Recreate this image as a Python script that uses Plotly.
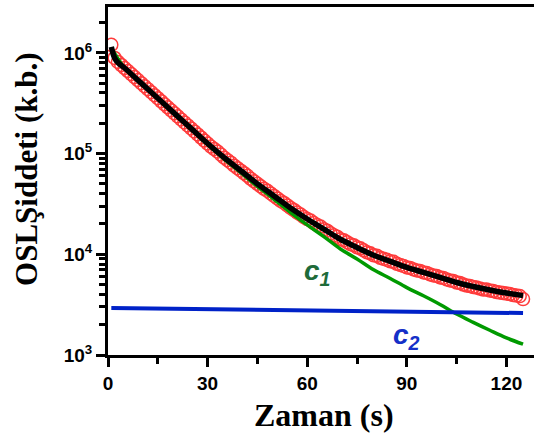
import numpy as np
import plotly.graph_objects as go

# ---- data ----
t_data = list(range(1, 126))
osl_log = [
    6.08, 5.95, 5.91, 5.88, 5.85, 5.82, 5.79, 5.76, 5.73, 5.70,
    5.67, 5.64, 5.61, 5.58, 5.55, 5.52, 5.49, 5.46, 5.43, 5.40,
    5.37, 5.34, 5.31, 5.28, 5.25, 5.22, 5.19, 5.16, 5.13, 5.10,
    5.07, 5.045, 5.02, 4.99, 4.96, 4.935, 4.91, 4.88, 4.855, 4.83,
    4.805, 4.78, 4.75, 4.725, 4.70, 4.675, 4.65, 4.63, 4.605, 4.58,
    4.555, 4.53, 4.51, 4.485, 4.46, 4.44, 4.415, 4.395, 4.37, 4.35,
    4.335, 4.31, 4.29, 4.275, 4.25, 4.235, 4.21, 4.19, 4.175, 4.15,
    4.14, 4.12, 4.10, 4.09, 4.07, 4.06, 4.04, 4.02, 4.01, 3.99,
    3.985, 3.965, 3.955, 3.945, 3.93, 3.925, 3.905, 3.895, 3.885, 3.87,
    3.865, 3.85, 3.84, 3.835, 3.82, 3.815, 3.80, 3.79, 3.785, 3.77,
    3.765, 3.75, 3.74, 3.735, 3.72, 3.715, 3.70, 3.69, 3.685, 3.675,
    3.67, 3.66, 3.65, 3.65, 3.64, 3.635, 3.625, 3.62, 3.615, 3.61,
    3.605, 3.595, 3.59, 3.585, 3.555,
]
osl = [10 ** v for v in osl_log]

t_fit = [1, 2, 3, 5, 10, 15, 20, 25, 30, 35, 40, 45, 50, 55, 60, 65, 70,
         75, 80, 85, 90, 95, 100, 105, 110, 115, 120, 125]
fit = [1.15e6, 8.9e5, 8.0e5, 7.08e5, 5.01e5, 3.55e5, 2.51e5, 1.78e5, 1.26e5,
       91200, 67600, 50100, 38000, 28800, 22400, 17800, 14100, 11700, 9770,
       8510, 7410, 6610, 5890, 5250, 4790, 4420, 4120, 3890]

t_c1 = [1, 5, 10, 15, 20, 25, 30, 35, 40, 45, 50, 55, 60, 65, 70, 75, 80,
        85, 90, 95, 100, 105, 110, 115, 120, 125]
c1 = [1.12e6, 7.08e5, 5.01e5, 3.55e5, 2.48e5, 1.76e5, 1.23e5, 88300, 64700,
      47300, 35200, 26000, 19600, 15000, 11300, 8980, 7010, 5760, 4670, 3880,
      3180, 2550, 2110, 1760, 1480, 1280]

t_c2 = [1, 30, 60, 90, 125]
c2 = [2930, 2860, 2780, 2700, 2610]

x_ticks = [0, 30, 60, 90, 120]
x_minor = [15, 45, 75, 105]
y_exps = [3, 4, 5, 6]

y_ticks = [10 ** e for e in y_exps]
y_minor = [m * 10 ** e for e in y_exps for m in range(2, 10)]

X_RANGE = [0, 128.3]
Y_RANGE = [3, 6.456]

fig = go.Figure()
fig.add_trace(go.Scatter(
    x=t_data, y=osl, mode="markers",
    marker=dict(symbol="circle-open", size=13, color="#FF3B3B",
                line=dict(width=1.5, color="#FF3B3B")),
    showlegend=False))
fig.add_trace(go.Scatter(x=t_c1, y=c1, mode="lines",
                         line=dict(color="#009A00", width=3.5, shape="spline"),
                         showlegend=False))
fig.add_trace(go.Scatter(x=t_c2, y=c2, mode="lines",
                         line=dict(color="#0022C8", width=4),
                         showlegend=False))
fig.add_trace(go.Scatter(x=t_fit, y=fit, mode="lines",
                         line=dict(color="black", width=5.5, shape="spline"),
                         showlegend=False))

tickfont = dict(family="Liberation Sans", size=19, color="black")

fig.update_layout(
    xaxis=dict(
        range=X_RANGE, tickmode="array", tickvals=x_ticks,
        ticktext=["<b>%d</b>" % v for v in x_ticks],
        showline=True, linewidth=3, linecolor="black", mirror=True,
        ticks="outside", ticklen=9, tickwidth=2.5, tickcolor="black",
        minor=dict(tickmode="array", tickvals=x_minor, ticks="outside",
                   ticklen=6, tickwidth=2.5, tickcolor="black"),
        showgrid=False, zeroline=False, tickfont=tickfont),
    yaxis=dict(
        type="log", range=Y_RANGE, tickmode="array", tickvals=y_ticks,
        ticktext=["<b>10<sup>%d</sup></b>" % e for e in y_exps],
        showline=True, linewidth=3, linecolor="black",
        ticks="outside", ticklen=9, tickwidth=2.5, tickcolor="black",
        minor=dict(tickmode="array", tickvals=y_minor, ticks="outside",
                   ticklen=6, tickwidth=2.5, tickcolor="black"),
        showgrid=False, zeroline=False, tickfont=tickfont),
)

fig.add_annotation(text="<b>Zaman (s)</b>", xref="paper", yref="paper",
                   x=0.507, y=-0.172, showarrow=False,
                   xanchor="center", yanchor="middle",
                   font=dict(family="Liberation Serif", size=32, color="black"))
fig.add_annotation(text="<b>OSLŞiddeti (k.b.)</b>", xref="paper", yref="paper",
                   x=-0.190, y=0.532, showarrow=False, textangle=-90,
                   xanchor="center", yanchor="middle",
                   font=dict(family="Liberation Serif", size=31, color="black"))
fig.add_annotation(text="<b><i>c<sub>1</sub></i></b>", x=63, y=3.82,
                   showarrow=False, xanchor="center", yanchor="middle",
                   font=dict(family="Liberation Sans", size=28, color="#1E6B3A"))
fig.add_annotation(text="<b><i>c<sub>2</sub></i></b>", x=90, y=3.18,
                   showarrow=False, xanchor="center", yanchor="middle",
                   font=dict(family="Liberation Sans", size=28, color="#1530C8"))

fig.update_layout(
    width=534, height=439,
    margin=dict(l=108, r=0, t=7, b=84),
    plot_bgcolor="white", paper_bgcolor="white",
)
fig.write_html("out.html")
